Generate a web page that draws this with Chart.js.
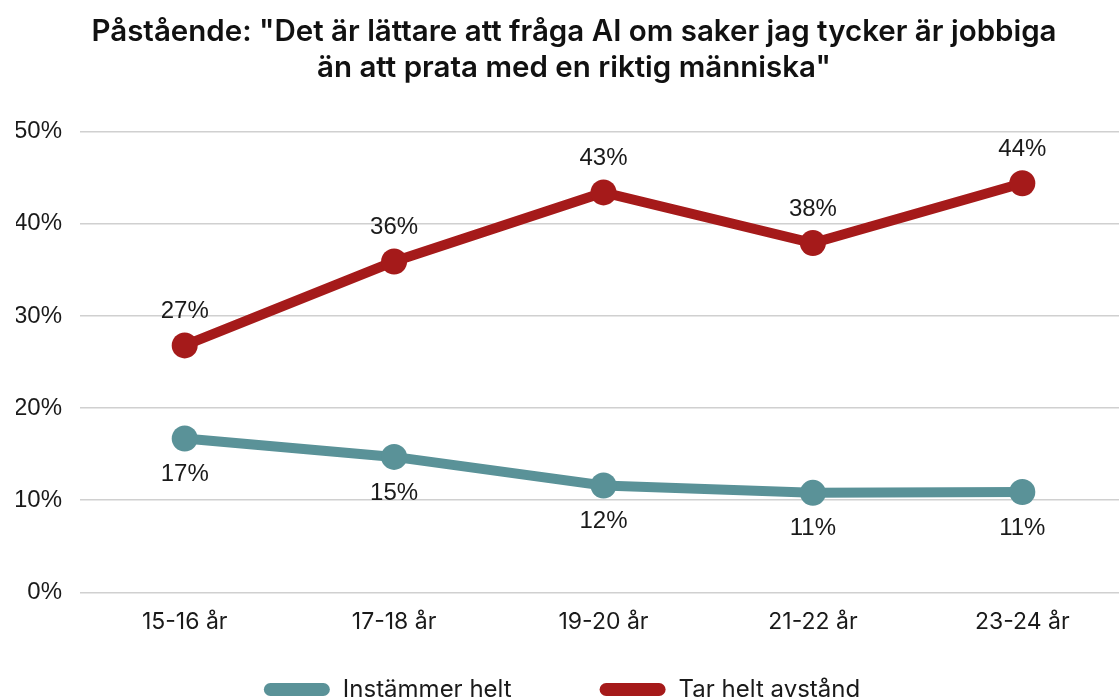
<!DOCTYPE html>
<html>
<head>
<meta charset="utf-8">
<script src="https://cdn.jsdelivr.net/npm/chart.js@4"></script>
<style>
  html, body { margin: 0; padding: 0; background: #fff; overflow: hidden; }
  #wrap { width: 1140px; height: 700px; }
</style>
</head>
<body>
<div id="wrap"><canvas id="grafica"></canvas></div>
<script>
// Datos del gráfico
const kategorier = ['15-16 år', '17-18 år', '19-20 år', '21-22 år', '23-24 år'];
const instammerHelt = [16.7, 14.7, 11.6, 10.8, 10.9];
const tarHeltAvstand = [26.8, 35.9, 43.4, 37.9, 44.4];
const yTicks = [0, 10, 20, 30, 40, 50];

const TEAL = '#5a9298';
const ROD = '#a51a1a';

// Etiquetas de valores: rojo arriba, verde-azul abajo
const etiquetasPlugin = {
  id: 'etiquetas',
  afterDatasetsDraw(chart) {
    const ctx = chart.ctx;
    ctx.save();
    ctx.font = '24px "Liberation Sans", Arial, sans-serif';
    ctx.fillStyle = '#1a1a1a';
    ctx.textAlign = 'center';
    ctx.textBaseline = 'middle';
    chart.data.datasets.forEach((ds, i) => {
      const meta = chart.getDatasetMeta(i);
      meta.data.forEach((pt, j) => {
        const dy = ds.etiquetaArriba ? -34 : 36;
        ctx.fillText(Math.round(ds.data[j]) + '%', pt.x, pt.y + dy);
      });
    });
    ctx.restore();
  }
};

// Leyenda propia (línea gruesa redondeada + texto), centrada abajo
const leyendaPlugin = {
  id: 'leyenda',
  afterDraw(chart) {
    const ctx = chart.ctx;
    const anchoCaja = 66, altoCaja = 13, hueco = 13, separacion = 88;
    ctx.save();
    ctx.font = '24px Inter, sans-serif';
    const items = chart.data.datasets.map(ds => ({
      texto: ds.label, color: ds.borderColor, ancho: ctx.measureText(ds.label).width
    }));
    const total = items.reduce((s, it) => s + anchoCaja + hueco + it.ancho, 0) + separacion * (items.length - 1);
    let x = chart.width / 2 - 8 - total / 2;
    const yCaja = chart.height - 17;
    const yTexto = chart.height - 3;
    items.forEach(it => {
      ctx.fillStyle = it.color;
      ctx.beginPath();
      ctx.roundRect(x, yCaja, anchoCaja, altoCaja, altoCaja / 2);
      ctx.fill();
      x += anchoCaja + hueco;
      ctx.fillStyle = '#1a1a1a';
      ctx.textBaseline = 'alphabetic';
      ctx.fillText(it.texto, x, yTexto);
      x += it.ancho + separacion;
    });
    ctx.restore();
  }
};

new Chart(document.getElementById('grafica'), {
  type: 'line',
  data: {
    labels: kategorier,
    datasets: [
      {
        label: 'Instämmer helt',
        data: instammerHelt,
        borderColor: TEAL,
        backgroundColor: TEAL,
        borderWidth: 10,
        pointRadius: 13,
        pointHoverRadius: 13,
        pointBackgroundColor: TEAL,
        pointBorderWidth: 0,
        etiquetaArriba: false,
      },
      {
        label: 'Tar helt avstånd',
        data: tarHeltAvstand,
        borderColor: ROD,
        backgroundColor: ROD,
        borderWidth: 10,
        pointRadius: 13,
        pointHoverRadius: 13,
        pointBackgroundColor: ROD,
        pointBorderWidth: 0,
        etiquetaArriba: true,
      },
    ],
  },
  options: {
    responsive: true,
    maintainAspectRatio: false,
    animation: false,
    layout: { padding: { left: 16, right: 8, top: 0, bottom: 56 } },
    scales: {
      x: {
        offset: true,
        grid: { display: false },
        border: { display: false },
        ticks: { color: '#1a1a1a', font: { family: 'Inter, sans-serif', size: 23 }, padding: 8 },
      },
      y: {
        min: 0,
        max: 50,
        afterBuildTicks(scale) { scale.ticks = yTicks.map(v => ({ value: v })); },
        afterFit(scale) { scale.width = 64; },
        grid: { color: '#d0d0d0', lineWidth: 1.5, drawTicks: false },
        border: { display: false },
        ticks: {
          color: '#1a1a1a',
          font: { family: '"Liberation Sans", Arial, sans-serif', size: 24 },
          padding: 18,
          callback: v => v + '%',
        },
      },
    },
    plugins: {
      title: {
        display: true,
        text: ['Påstående: "Det är lättare att fråga AI om saker jag tycker är jobbiga', 'än att prata med en riktig människa"'],
        color: '#111',
        font: { family: 'Inter, sans-serif', size: 29.5, weight: '600', lineHeight: 1.23 },
        padding: { top: 14, bottom: 45 },
      },
      legend: { display: false },
      tooltip: { enabled: false },
    },
  },
  plugins: [etiquetasPlugin, leyendaPlugin],
});
</script>
</body>
</html>
